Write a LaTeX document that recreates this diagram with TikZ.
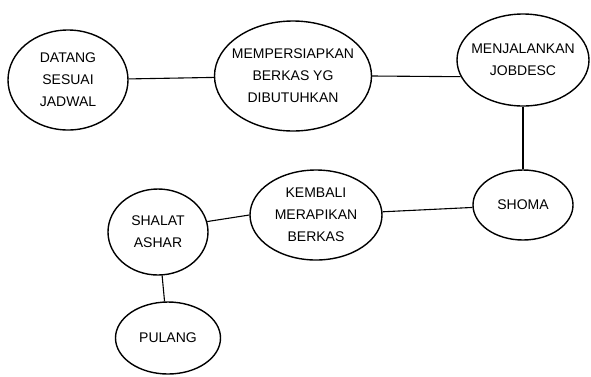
\documentclass[tikz,border=0pt]{standalone}
\usepackage{fontspec}
\setmainfont{Liberation Sans}
\usetikzlibrary{shapes.geometric,positioning}

\begin{document}
\begin{tikzpicture}[
    x=1pt, y=-1pt,
    every node/.style={ellipse, draw, line width=1.4pt, align=center, inner sep=0pt,
        font=\fontsize{14}{22}\selectfont},
    link/.style={draw, line width=1.1pt}
]
\useasboundingbox (0,0) rectangle (591,376);
% top row
\node[minimum width=120pt, minimum height=100pt] (datang) at (68,80) {DATANG\\SESUAI\\JADWAL};
\node[minimum width=157pt, minimum height=110pt, inner xsep=-16pt] (siap) at (293,76) {MEMPERSIAPKAN\\BERKAS YG\\DIBUTUHKAN};
\node[minimum width=132pt, minimum height=92pt, inner xsep=-18pt] (jobdesc) at (523,60) {MENJALANKAN\\JOBDESC};
% second row
\node[minimum width=100pt, minimum height=70pt] (shoma) at (523,205) {SHOMA};
\node[minimum width=132pt, minimum height=90pt, inner xsep=-10pt] (kembali) at (316,215) {KEMBALI\\MERAPIKAN\\BERKAS};
\node[minimum width=100pt, minimum height=86pt] (shalat) at (158,232) {SHALAT\\ASHAR};
% last
\node[minimum width=105pt, minimum height=72pt] (pulang) at (168,338) {PULANG};

\draw[link] (datang) -- (siap);
\draw[link] (siap.east) -- (jobdesc.195);
\draw[link] (jobdesc) -- (shoma);
\draw[link] (shoma) -- (kembali);
\draw[link] (kembali.west) -- (shalat.12);
\draw[link] (shalat) -- (pulang);
\end{tikzpicture}
\end{document}
